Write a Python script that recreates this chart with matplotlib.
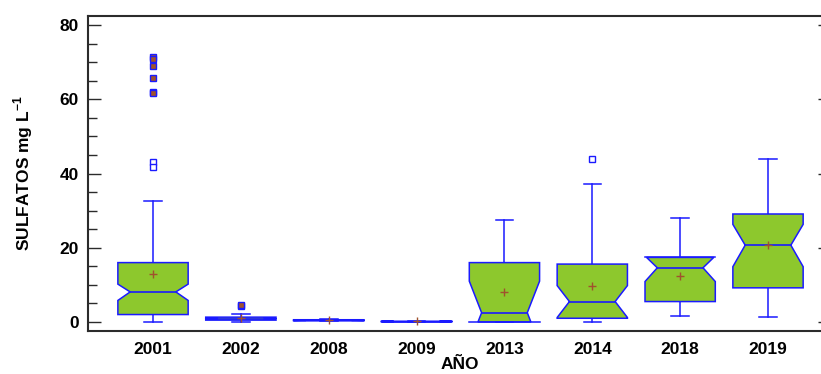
import matplotlib
matplotlib.use("Agg")
import matplotlib.pyplot as plt
from matplotlib.ticker import MultipleLocator

plt.rcParams["font.family"] = ["Liberation Sans", "DejaVu Sans"]
plt.rcParams["mathtext.fontset"] = "custom"
plt.rcParams["mathtext.rm"] = "Liberation Sans"
plt.rcParams["mathtext.bf"] = "Liberation Sans:bold"

# resumen por año (mg/L)
years = ["2001", "2002", "2008", "2009", "2013", "2014", "2018", "2019"]
q1 = [2.0, 0.5, 0.3, 0.05, 0.0, 1.0, 5.5, 9.2]
medians = [8.1, 0.9, 0.45, 0.12, 2.5, 5.5, 14.6, 20.7]
q3 = [16.0, 1.3, 0.6, 0.2, 16.0, 15.6, 17.4, 29.1]
notch_lo = [5.8, 0.8, 0.4, 0.1, -6.0, 1.2, 10.9, 14.9]
notch_hi = [10.2, 1.0, 0.5, 0.15, 11.0, 9.8, 17.8, 26.3]
whisk_lo = [0.0, 0.1, 0.15, 0.0, 0.0, 0.0, 1.7, 1.4]
whisk_hi = [32.6, 2.2, 0.75, 0.3, 27.4, 37.1, 27.9, 43.9]
means = [12.9, 1.1, 0.45, 0.15, 8.1, 9.8, 12.4, 20.7]
near_out = {"2001": [43.0, 41.9], "2014": [44.0]}
far_out = {"2001": [71.5, 71.0, 69.1, 65.8, 62.0, 61.8], "2002": [4.3, 4.6]}

BLUE = "#1a1aff"
GREEN = "#8dc82d"
BROWN = "#a0522d"
HALF = 0.4
INSET = 0.14
CAP = 0.1
FS = 12.5


def notch_inset(y, med, lo, hi):
    if y < med:
        span = med - lo
        d = med - y
    else:
        span = hi - med
        d = y - med
    if span <= 0 or d >= span:
        return 0.0
    return INSET * (1 - d / span)


def notched_box(ax, pos, b, m, t, lo, hi):
    ys = [b]
    if lo > b:
        ys.append(lo)
    ys.append(m)
    if hi < t:
        ys.append(hi)
    ys.append(t)
    left = [(pos - HALF + notch_inset(y, m, lo, hi), y) for y in ys]
    right = [(pos + HALF - notch_inset(y, m, lo, hi), y) for y in reversed(ys)]
    pts = left + right
    ax.fill([p[0] for p in pts], [p[1] for p in pts], facecolor=GREEN,
            edgecolor=BLUE, linewidth=1.1, zorder=2)
    ax.plot([pos - HALF + INSET, pos + HALF - INSET], [m, m], color=BLUE,
            linewidth=1.2, zorder=3)
    # notch running past the quartile: keep the quartile edge full width
    if lo < b:
        ax.plot([pos - HALF, pos + HALF], [b, b], color=BLUE, linewidth=1.1, zorder=3)
    if hi > t:
        ax.plot([pos - HALF, pos + HALF], [t, t], color=BLUE, linewidth=1.1, zorder=3)


fig = plt.figure(figsize=(8.21, 3.74), dpi=100)
ax = fig.add_axes([88 / 821, 43.5 / 374, 743 / 821, 315 / 374])

for i, yr in enumerate(years):
    pos = i + 1
    notched_box(ax, pos, q1[i], medians[i], q3[i], notch_lo[i], notch_hi[i])
    ax.plot([pos, pos], [q3[i], whisk_hi[i]], color=BLUE, linewidth=1.1, zorder=1)
    ax.plot([pos, pos], [q1[i], whisk_lo[i]], color=BLUE, linewidth=1.1, zorder=1)
    ax.plot([pos - CAP, pos + CAP], [whisk_hi[i]] * 2, color=BLUE, linewidth=1.1)
    ax.plot([pos - CAP, pos + CAP], [whisk_lo[i]] * 2, color=BLUE, linewidth=1.1)
    ax.plot(pos, means[i], marker="+", color=BROWN, markersize=6,
            markeredgewidth=1.0, zorder=4)
    if yr in near_out:
        v = near_out[yr]
        ax.plot([pos] * len(v), v, "s", mfc="white", mec=BLUE, ms=4.5,
                mew=1.0, zorder=4)
    if yr in far_out:
        v = far_out[yr]
        ax.plot([pos] * len(v), v, "s", mfc=BROWN, mec=BLUE, ms=4.5,
                mew=1.0, zorder=4)

ax.set_xlim(0.26, 8.717)
ax.set_ylim(-2.3, 82.6)
ax.set_xticks(range(1, len(years) + 1))
ax.set_xticklabels(years, fontsize=FS, fontweight="bold")
ax.tick_params(axis="x", length=0, pad=8)

ax.yaxis.set_major_locator(MultipleLocator(20))
ax.yaxis.set_minor_locator(MultipleLocator(5))
ax.yaxis.set_ticks_position("both")
ax.tick_params(axis="y", which="major", direction="in", length=9.4,
               width=1.0, color="#2b2b2b", labelsize=FS, pad=6.5)
ax.tick_params(axis="y", which="minor", direction="in", length=6.2,
               width=1.0, color="#2b2b2b", right=False)
for lab in ax.get_yticklabels():
    lab.set_fontweight("bold")

for s in ax.spines.values():
    s.set_color("#2b2b2b")
    s.set_linewidth(1.5)

ax.set_xlabel("AÑO", fontsize=FS, fontweight="bold", labelpad=0.5)
ax.set_ylabel(r"SULFATOS mg L$^{\mathbf{-1}}$", fontsize=FS,
              fontweight="bold", labelpad=18)

fig.savefig("out.png", dpi=100)
